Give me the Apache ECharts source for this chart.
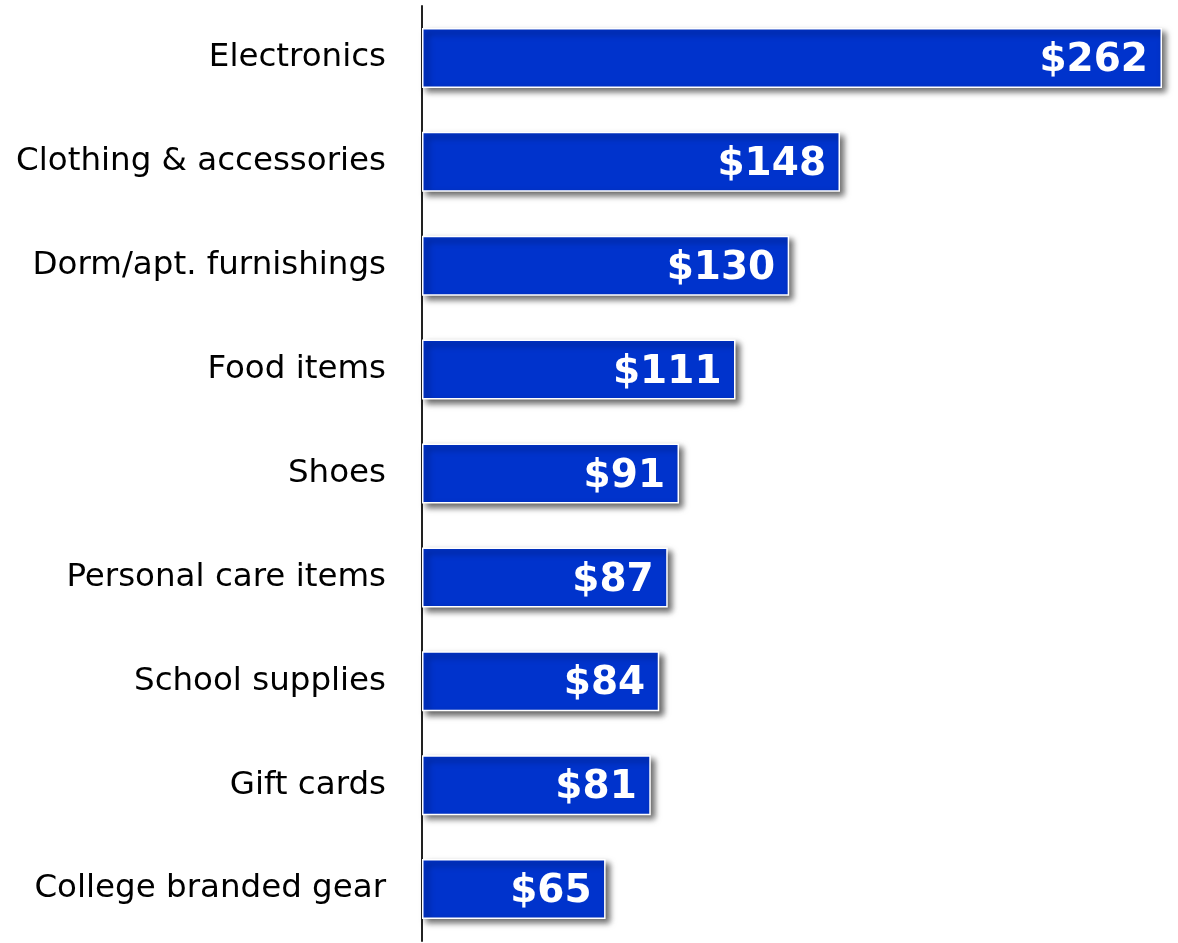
<!DOCTYPE html>
<html><head><meta charset="utf-8">
<script src="https://cdn.jsdelivr.net/npm/echarts@6/dist/echarts.min.js"></script>
<style>html,body{margin:0;padding:0;background:#fff}#c{width:1178px;height:943px}</style>
</head><body><div id="c"></div>
<script>
const categories = ["Electronics","Clothing & accessories","Dorm/apt. furnishings","Food items","Shoes","Personal care items","School supplies","Gift cards","College branded gear"];
const values = [262,148,130,111,91,87,84,81,65];

const chart = echarts.init(document.getElementById('c'));
chart.setOption({
  animation:false,
  grid:{left:422,right:16,top:6,bottom:2,containLabel:false},
  xAxis:{type:'value',min:0,max:262,show:false},
  yAxis:{type:'category',data:categories,inverse:true,
    axisLine:{show:true,lineStyle:{color:'#222',width:2}},
    axisTick:{show:false},
    axisLabel:{margin:36,color:'#000',fontFamily:'DejaVu Sans',fontSize:32.5,padding:[4,0,0,0]}},
  series:[{type:'bar',data:values,barWidth:60,
    itemStyle:{color:'#0033CC',borderColor:'#fff',borderWidth:1.5,
      shadowColor:'rgba(0,0,0,0.6)',shadowBlur:6,shadowOffsetX:4,shadowOffsetY:4},
    label:{show:true,position:'insideRight',distance:14,offset:[0,3],color:'#fff',fontFamily:'DejaVu Sans',fontWeight:'bold',fontSize:39,
      formatter:p=>'$'+p.value}}]
});
</script></body></html>
